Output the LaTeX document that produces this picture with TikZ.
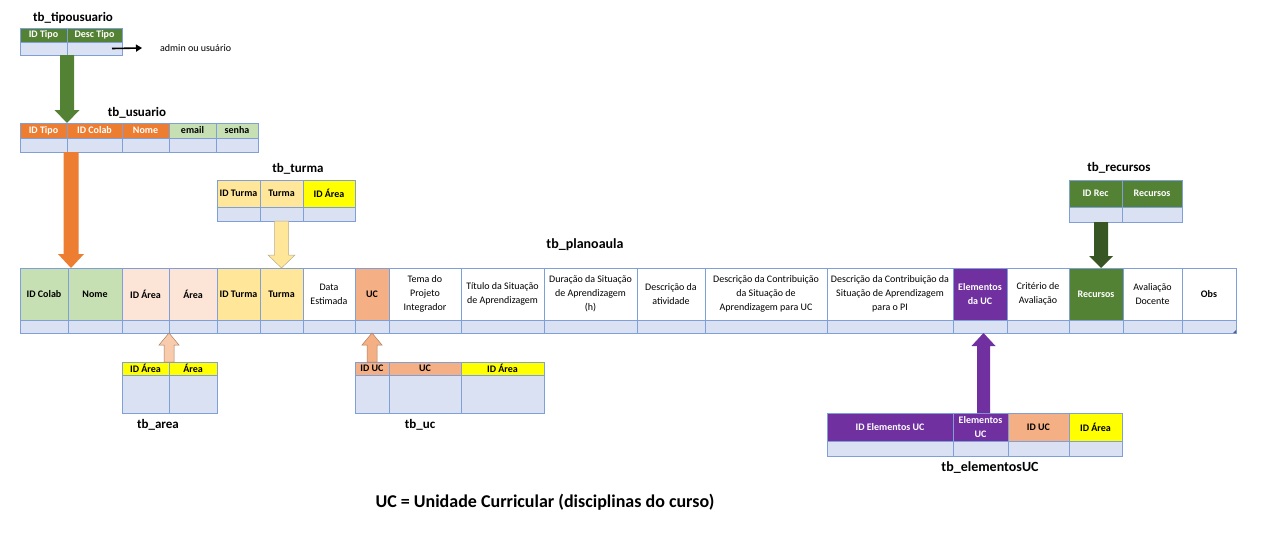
\documentclass[tikz,border=0pt]{standalone}
\usepackage{fontspec}
\setmainfont{Carlito}
\usetikzlibrary{calc,arrows.meta}
\definecolor{gdark}{HTML}{548235}
\definecolor{gdarker}{HTML}{375623}
\definecolor{glight}{HTML}{C6E0B4}
\definecolor{orng}{HTML}{ED7D31}
\definecolor{peachl}{HTML}{FCE4D6}
\definecolor{peach}{HTML}{F4B084}
\definecolor{peachm}{HTML}{F8CBAD}
\definecolor{ylight}{HTML}{FFE699}
\definecolor{yel}{HTML}{FFFF00}
\definecolor{purp}{HTML}{7030A0}
\definecolor{datab}{HTML}{D9E1F2}
\definecolor{bord}{HTML}{7F9FD8}
\tikzset{
  cell/.style={draw=bord, line width=0.8pt, inner sep=1pt, outer sep=0pt, align=center,
    font=\fontsize{10}{14}\selectfont},
  hd/.style={cell, font=\bfseries\fontsize{10}{14}\selectfont},
  hdw/.style={hd, text=white},
  dat/.style={cell, fill=datab},
  tbtitle/.style={font=\bfseries\fontsize{13}{15}\selectfont},
  tbtitlebig/.style={font=\bfseries\fontsize{14}{16}\selectfont},
}
\newcommand{\tcell}[7]{%
  \pgfmathsetmacro\tcw{#4-#2}%
  \pgfmathsetmacro\tch{#5-#3}%
  \node[#6, minimum width=\tcw pt, minimum height=\tch pt, anchor=north west] (#1) at (#2,#3) {#7};}
\newcommand{\blockarrow}[6]{%
  \path[#1] let \p1=(#2), \p2=(#3) in
   ({\x2-#4pt},{\y1}) -- ({\x2-#4pt},{\y2+(#6pt)}) -- ({\x2-#5pt},{\y2+(#6pt)}) -- ({\x2},{\y2})
   -- ({\x2+#5pt},{\y2+(#6pt)}) -- ({\x2+#4pt},{\y2+(#6pt)}) -- ({\x2+#4pt},{\y1}) -- cycle;}
\begin{document}
\begin{tikzpicture}[x=1pt,y=-1pt]
\useasboundingbox (0,0) rectangle (1280,538);

% tb_tipousuario
\node[tbtitle] (ttipo) at (73,18) {tb\_tipousuario};
\tcell{tipoH1}{20}{28}{67}{42}{hdw,fill=gdark}{ID Tipo}
\tcell{tipoH2}{67}{28}{122}{42}{hdw,fill=gdark}{Desc Tipo}
\tcell{tipoD1}{20}{42}{67}{55}{dat}{}
\tcell{tipoD2}{67}{42}{122}{55}{dat}{}
\node[anchor=west, font=\fontsize{10}{12}\selectfont, inner sep=0pt] (admin) at (160,48) {admin ou usuário};
\draw[line width=1.6pt, -{Triangle[length=6pt,width=7pt]}] ([xshift=-10pt]tipoD2.east) -- ([xshift=-18pt]admin.west);

% tb_usuario
\node[tbtitle] (tusu) at (137,113) {tb\_usuario};
\tcell{usuH1}{20}{123}{67}{138}{hdw,fill=orng}{ID Tipo}
\tcell{usuH2}{67}{123}{122}{138}{hdw,fill=orng}{ID Colab}
\tcell{usuH3}{122}{123}{169}{138}{hdw,fill=orng}{Nome}
\tcell{usuH4}{169}{123}{216}{138}{hd,fill=glight}{email}
\tcell{usuH5}{216}{123}{258}{138}{hd,fill=glight}{senha}
\tcell{usuD1}{20}{138}{67}{152}{dat}{}
\tcell{usuD2}{67}{138}{122}{152}{dat}{}
\tcell{usuD3}{122}{138}{169}{152}{dat}{}
\tcell{usuD4}{169}{138}{216}{152}{dat}{}
\tcell{usuD5}{216}{138}{258}{152}{dat}{}

% tb_turma
\node[tbtitle] (tturma) at (298,169) {tb\_turma};
\tcell{turH1}{217}{180}{260}{207}{hd,fill=ylight}{ID Turma}
\tcell{turH2}{260}{180}{303}{207}{hd,fill=ylight}{Turma}
\tcell{turH3}{303}{180}{355}{207}{hd,fill=yel}{ID Área}
\tcell{turD1}{217}{207}{260}{221}{dat}{}
\tcell{turD2}{260}{207}{303}{221}{dat}{}
\tcell{turD3}{303}{207}{355}{221}{dat}{}

% tb_recursos
\node[tbtitle] (trec) at (1119,168) {tb\_recursos};
\tcell{recH1}{1069}{180}{1122}{207}{hdw,fill=gdark}{ID Rec}
\tcell{recH2}{1122}{180}{1182}{207}{hdw,fill=gdark}{Recursos}
\tcell{recD1}{1069}{207}{1122}{222}{dat}{}
\tcell{recD2}{1122}{207}{1182}{222}{dat}{}

% tb_planoaula
\node[tbtitlebig] (tplano) at (585,245) {tb\_planoaula};
\tcell{m1}{20}{268}{68}{320}{hd,fill=glight}{ID Colab}
\tcell{m2}{68}{268}{122}{320}{hd,fill=glight}{Nome}
\tcell{m3}{122}{268}{169}{320}{hd,fill=peachl}{ID Área}
\tcell{m4}{169}{268}{217}{320}{hd,fill=peachl}{Área}
\tcell{m5}{217}{268}{260}{320}{hd,fill=ylight}{ID Turma}
\tcell{m6}{260}{268}{303}{320}{hd,fill=ylight}{Turma}
\tcell{m7}{303}{268}{355}{320}{cell}{Data\\Estimada}
\tcell{m8}{355}{268}{389}{320}{hd,fill=peach}{UC}
\tcell{m9}{389}{268}{461}{320}{cell}{Tema do\\Projeto\\Integrador}
\tcell{m10}{461}{268}{544}{320}{cell}{Título da Situação\\de Aprendizagem}
\tcell{m11}{544}{268}{637}{320}{cell}{Duração da Situação\\de Aprendizagem\\(h)}
\tcell{m12}{637}{268}{705}{320}{cell}{Descrição da\\atividade}
\tcell{m13}{705}{268}{827}{320}{cell}{Descrição da Contribuição\\da Situação de\\Aprendizagem para UC}
\tcell{m14}{827}{268}{953}{320}{cell}{Descrição da Contribuição da\\Situação de Aprendizagem\\para o PI}
\tcell{m15}{953}{268}{1007}{320}{hdw,fill=purp}{Elementos\\da UC}
\tcell{m16}{1007}{268}{1069}{320}{cell}{Critério de\\Avaliação}
\tcell{m17}{1069}{268}{1123}{320}{hdw,fill=gdark}{Recursos}
\tcell{m18}{1123}{268}{1182}{320}{cell}{Avaliação\\Docente}
\tcell{m19}{1182}{268}{1236}{320}{hd}{Obs}
\foreach \i/\a/\b in {1/20/68,2/68/122,3/122/169,4/169/217,5/217/260,6/260/303,7/303/355,
  8/355/389,9/389/461,10/461/544,11/544/637,12/637/705,13/705/827,14/827/953,
  15/953/1007,16/1007/1069,17/1069/1123,18/1123/1182,19/1182/1236}{
  \tcell{md\i}{\a}{320}{\b}{333}{dat}{}
}
\fill[bord!60!black] (md19.south east) -- ++(-3,0) -- ++(3,-3) -- cycle;

% tb_area
\tcell{areaH1}{122}{362}{169}{375}{hd,fill=yel}{ID Área}
\tcell{areaH2}{169}{362}{217}{375}{hd,fill=yel}{Área}
\tcell{areaD1}{122}{375}{169}{413}{dat}{}
\tcell{areaD2}{169}{375}{217}{413}{dat}{}
\node[tbtitle] (tarea) at (158,425) {tb\_area};

% tb_uc
\tcell{ucH1}{355}{362}{389}{375}{hd,fill=peach}{ID UC}
\tcell{ucH2}{389}{362}{461}{375}{hd,fill=peach}{UC}
\tcell{ucH3}{461}{362}{544}{375}{hd,fill=yel}{ID Área}
\tcell{ucD1}{355}{375}{389}{413}{dat}{}
\tcell{ucD2}{389}{375}{461}{413}{dat}{}
\tcell{ucD3}{461}{375}{544}{413}{dat}{}
\node[tbtitle] (tuc) at (420,425) {tb\_uc};

% tb_elementosUC
\tcell{elH1}{827}{413}{953}{441}{hdw,fill=purp}{ID Elementos UC}
\tcell{elH2}{953}{413}{1008}{441}{hdw,fill=purp}{Elementos\\UC}
\tcell{elH3}{1008}{413}{1069}{441}{hd,fill=peach}{ID UC}
\tcell{elH4}{1069}{413}{1122}{441}{hd,fill=yel}{ID Área}
\tcell{elD1}{827}{441}{953}{456}{dat}{}
\tcell{elD2}{953}{441}{1008}{456}{dat}{}
\tcell{elD3}{1008}{441}{1069}{456}{dat}{}
\tcell{elD4}{1069}{441}{1122}{456}{dat}{}
\node[tbtitlebig] (tel) at (990,468) {tb\_elementosUC};

% block arrows
\blockarrow{fill=gdark}{tipoD1.south east}{usuH1.north east}{7}{12.5}{13}
\blockarrow{fill=orng}{[xshift=4pt]usuD1.south east}{[xshift=3pt]m1.north east}{7.5}{13}{14}
\blockarrow{fill=ylight,draw=ylight!60!black!70,line width=0.5pt}{turD2.south}{m6.north}{7}{13.5}{13}
\blockarrow{fill=gdarker}{[xshift=5pt]recD1.south}{[xshift=5pt]m17.north}{7}{12}{12}
\blockarrow{fill=peachm,draw=peach!70!black,line width=0.5pt}{areaH1.north east}{md3.south east}{5}{10}{-12}
\blockarrow{fill=peach,draw=peach!70!black,line width=0.5pt}{ucH1.north}{md8.south}{5}{10}{-12}
\blockarrow{fill=purp}{[xshift=3.5pt]elH2.north}{[xshift=3.5pt]md15.south}{6.5}{12}{-13}

% note
\node[font=\bfseries\fontsize{18}{20}\selectfont] (note) at (545,502) {UC = Unidade Curricular (disciplinas do curso)};
\end{tikzpicture}
\end{document}
